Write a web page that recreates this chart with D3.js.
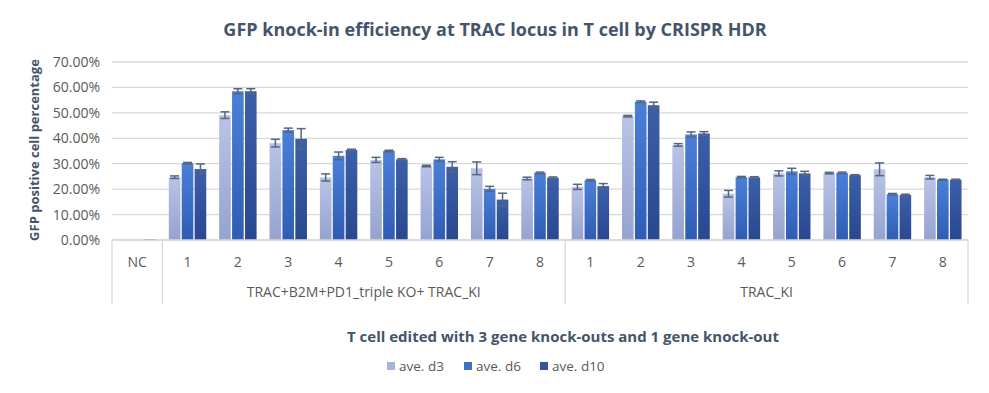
<!DOCTYPE html>
<html>
<head>
<meta charset="utf-8">
<script src="https://cdn.jsdelivr.net/npm/d3@7"></script>
<style>
  body { margin: 0; background: #fff; }
  text { font-family: "Open Sans", "Noto Sans", sans-serif; }
</style>
</head>
<body>
<div id="container"></div>
<script>
// chart values (percent)
const categories = ["NC", "1", "2", "3", "4", "5", "6", "7", "8", "1", "2", "3", "4", "5", "6", "7", "8"];
const groupNames = ["TRAC+B2M+PD1_triple KO+ TRAC_KI", "TRAC_KI"];
const groupStart = [1, 9];
const groupEnd = [8, 16];
const seriesNames = ["ave. d3", "ave. d6", "ave. d10"];

const aveD3 = [0, 24.7, 49.1, 38.1, 24.6, 31.5, 29.1, 28.2, 24.2, 20.9, 48.7, 37.4, 18.2, 26.2, 26.3, 27.8, 24.7];
const aveD6 = [0, 30.2, 58.5, 43.2, 33.1, 35.0, 31.7, 20.1, 26.4, 23.5, 54.4, 41.5, 24.7, 27.0, 26.4, 18.0, 23.7];
const aveD10 = [0.3, 27.9, 58.5, 39.8, 35.4, 31.7, 28.8, 15.9, 24.5, 21.2, 53.0, 41.9, 24.6, 26.2, 25.5, 17.7, 23.7];

const errD3 = [0, 0.5, 1.3, 1.5, 1.4, 1.0, 0.3, 2.5, 0.5, 1.0, 0.3, 0.5, 1.3, 1.0, 0.3, 2.5, 0.7];
const errD6 = [0, 0.3, 1.0, 0.8, 1.5, 0.3, 0.8, 1.0, 0.3, 0.3, 0.3, 1.0, 0.3, 1.2, 0.3, 0.3, 0.2];
const errD10 = [0, 2.0, 1.0, 4.0, 0.3, 0.3, 2.0, 2.5, 0.3, 1.0, 1.2, 0.7, 0.3, 0.8, 0.2, 0.3, 0.2];

const yTicks = [0, 10, 20, 30, 40, 50, 60, 70];

const values = [aveD3, aveD6, aveD10];
const errors = [errD3, errD6, errD10];

const width = 989, height = 393;
const plot = { left: 112, right: 968, top: 62, bottom: 240 };

const svg = d3.select("#container")
  .append("svg")
  .attr("width", width)
  .attr("height", height);

const defs = svg.append("defs");
const gradColors = [
  ["#b8c3e6", "#96a3cf"],
  ["#4b80d8", "#2f5cb4"],
  ["#3c5fa9", "#284890"],
];
gradColors.forEach((c, i) => {
  const g = defs.append("linearGradient")
    .attr("id", "grad" + i)
    .attr("x1", 0).attr("y1", 0).attr("x2", 0).attr("y2", 1);
  g.append("stop").attr("offset", "0%").attr("stop-color", c[0]);
  g.append("stop").attr("offset", "100%").attr("stop-color", c[1]);
});
const legendColors = ["#a7b3dc", "#3f6fc8", "#33559e"];

const x = d3.scaleBand()
  .domain(d3.range(categories.length))
  .range([plot.left, plot.right])
  .paddingInner(0);

const xInner = d3.scaleBand()
  .domain(d3.range(seriesNames.length))
  .range([0, x.bandwidth()])
  .paddingInner(0.1)
  .paddingOuter(0.5);

const y = d3.scaleLinear()
  .domain([0, 70])
  .range([plot.bottom, plot.top]);

// gridlines
svg.append("g")
  .selectAll("line")
  .data(yTicks)
  .enter()
  .append("line")
  .attr("x1", plot.left)
  .attr("x2", plot.right)
  .attr("y1", (d) => y(d))
  .attr("y2", (d) => y(d))
  .attr("stroke", "#d9d9d9")
  .attr("stroke-width", 1.3);

// y axis labels
const yAxis = d3.axisLeft(y)
  .tickValues(yTicks)
  .tickSize(0)
  .tickPadding(12)
  .tickFormat((d) => d.toFixed(2) + "%");

svg.append("g")
  .attr("transform", `translate(${plot.left},0)`)
  .call(yAxis)
  .call((g) => g.select(".domain").remove())
  .selectAll("text")
  .attr("font-size", "14px")
  .attr("fill", "#595959")
  .style("font-family", "'Open Sans', sans-serif");

// bars
const catG = svg.append("g")
  .selectAll("g")
  .data(categories)
  .enter()
  .append("g")
  .attr("transform", (d, i) => `translate(${x(i)},0)`);

seriesNames.forEach((s, si) => {
  catG.append("rect")
    .attr("x", xInner(si))
    .attr("width", xInner.bandwidth())
    .attr("y", (d, i) => y(values[si][i]))
    .attr("height", (d, i) => y(0) - y(values[si][i]))
    .attr("fill", `url(#grad${si})`);
});

// error bars
const errData = [];
categories.forEach((c, i) => {
  seriesNames.forEach((s, si) => {
    if (errors[si][i] > 0) errData.push({ i, si, v: values[si][i], e: errors[si][i] });
  });
});
const ebG = svg.append("g")
  .attr("stroke", "#56647e")
  .attr("stroke-width", 1.5);
const ebItems = ebG.selectAll("g")
  .data(errData)
  .enter()
  .append("g")
  .attr("transform", (d) => `translate(${x(d.i) + xInner(d.si) + xInner.bandwidth() / 2},0)`);
ebItems.append("line")
  .attr("x1", 0).attr("x2", 0)
  .attr("y1", (d) => y(d.v + d.e))
  .attr("y2", (d) => y(Math.max(0, d.v - d.e)));
ebItems.append("line")
  .attr("x1", -4.5).attr("x2", 4.5)
  .attr("y1", (d) => y(d.v + d.e))
  .attr("y2", (d) => y(d.v + d.e));
ebItems.append("line")
  .attr("x1", -4.5).attr("x2", 4.5)
  .attr("y1", (d) => y(Math.max(0, d.v - d.e)))
  .attr("y2", (d) => y(Math.max(0, d.v - d.e)));

// x axis table lines
const axisBottom = plot.bottom + 64;
const xg = svg.append("g").attr("stroke", "#d9d9d9").attr("stroke-width", 1.3);
xg.append("line")
  .attr("x1", plot.left).attr("x2", plot.right)
  .attr("y1", plot.bottom).attr("y2", plot.bottom);
const dividers = [0, groupStart[0], groupStart[1], categories.length];
xg.selectAll("line.div")
  .data(dividers)
  .enter()
  .append("line")
  .attr("class", "div")
  .attr("x1", (d) => (d === categories.length ? plot.right : x(d)))
  .attr("x2", (d) => (d === categories.length ? plot.right : x(d)))
  .attr("y1", plot.bottom)
  .attr("y2", axisBottom);

svg.append("g")
  .selectAll("text")
  .data(categories)
  .enter()
  .append("text")
  .attr("x", (d, i) => x(i) + x.bandwidth() / 2)
  .attr("y", plot.bottom + 27)
  .attr("text-anchor", "middle")
  .attr("font-size", "14px")
  .attr("fill", "#595959")
  .text((d) => d);

svg.append("g")
  .selectAll("text")
  .data(groupNames)
  .enter()
  .append("text")
  .attr("x", (d, i) => (x(groupStart[i]) + x(groupEnd[i]) + x.bandwidth()) / 2)
  .attr("y", plot.bottom + 57)
  .attr("text-anchor", "middle")
  .attr("font-size", "14px")
  .attr("fill", "#595959")
  .text((d) => d);

// titles
svg.append("text")
  .attr("x", 495)
  .attr("y", 36)
  .attr("text-anchor", "middle")
  .attr("font-size", "18px")
  .attr("font-weight", "bold")
  .attr("fill", "#44546a")
  .text("GFP knock-in efficiency at TRAC locus in T cell by CRISPR HDR");

svg.append("text")
  .attr("transform", "translate(39,150) rotate(-90)")
  .attr("text-anchor", "middle")
  .attr("font-size", "13px")
  .attr("font-weight", "bold")
  .attr("fill", "#44546a")
  .text("GFP positive cell percentage");

svg.append("text")
  .attr("x", 563)
  .attr("y", 342)
  .attr("text-anchor", "middle")
  .attr("font-size", "15px")
  .attr("font-weight", "bold")
  .attr("fill", "#44546a")
  .text("T cell edited with 3 gene knock-outs and 1 gene knock-out");

// legend
const legendX = [387, 464, 540];
const legend = svg.append("g")
  .selectAll("g")
  .data(seriesNames)
  .enter()
  .append("g")
  .attr("transform", (d, i) => `translate(${legendX[i]},366)`);
legend.append("rect")
  .attr("x", 0).attr("y", -4)
  .attr("width", 8).attr("height", 8)
  .attr("fill", (d, i) => legendColors[i]);
legend.append("text")
  .attr("x", 12)
  .attr("y", 5)
  .attr("font-size", "13.5px")
  .attr("fill", "#595959")
  .text((d) => d);
</script>
</body>
</html>
